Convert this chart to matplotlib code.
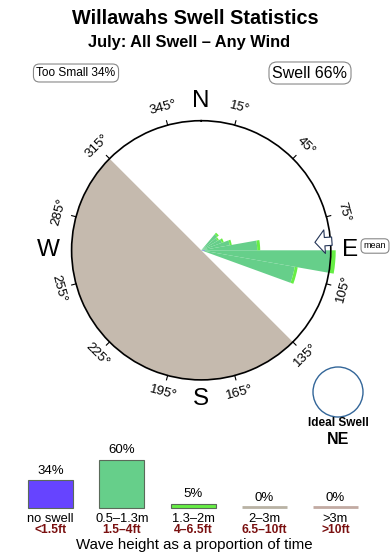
import numpy as np
import matplotlib
matplotlib.use("Agg")
import matplotlib.pyplot as plt
from matplotlib.patches import Circle

plt.rcParams['font.family'] = ['Liberation Sans', 'DejaVu Sans']

# ---------------- data ----------------
title = "Willawahs Swell Statistics"
subtitle = "July: All Swell \u2013 Any Wind"
too_small_pct = 34
swell_pct = 66

# rose: direction bins (bin centre, degrees) and stacked radial lengths (circle radius = 129.6)
rose_dirs = [45, 55, 65, 75, 85, 95, 105]
rose_blue = [0, 0, 0, 0, 3, 4, 0]            # <1.5ft
rose_green = [21, 19, 22, 29, 53, 126, 95]   # 0.5-1.3m
rose_bright = [2, 1.5, 2, 2, 3, 4.5, 3]      # 1.3-2m
rose_bin_width = 10

blocked_from = 135   # shaded sector bearings (clockwise from 135 to 315)
blocked_to = 315
mean_dir = 86
tick_degs = [15, 45, 75, 105, 135, 165, 195, 225, 255, 285, 315, 345]
cardinals = ['N', 'E', 'S', 'W']
cardinal_degs = [0, 90, 180, 270]
ideal_dir = "NE"

# wave height bars
categories = ['no swell', '0.5\u20131.3m', '1.3\u20132m', '2\u20133m', '>3m']
cat_ft = ['<1.5ft', '1.5\u20134ft', '4\u20136.5ft', '6.5\u201310ft', '>10ft']
pct = [34, 60, 5, 0, 0]
bar_colors = ['#6644ff', '#66cf8a', '#66ee44', '#b9b2a4', '#c2aaa2']

# ---------------- figure ----------------
W, H = 390, 560
fig = plt.figure(figsize=(W / 100, H / 100), dpi=100)
fig.patch.set_facecolor('white')


def fx(x):
    return x / W


def fy(y):
    return 1 - y / H


fig.text(fx(195), fy(18), title, ha='center', va='center', fontsize=14.3, fontweight='bold')
fig.text(fx(189), fy(42), subtitle, ha='center', va='center', fontsize=11.8, fontweight='bold')

fig.text(fx(76), fy(73), f"Too Small {too_small_pct}%", ha='center', va='center', fontsize=8.6,
         bbox=dict(boxstyle='round,pad=0.25,rounding_size=0.5', fc='white', ec='#888888', lw=0.8))
fig.text(fx(310), fy(73), f"Swell {swell_pct}%", ha='center', va='center', fontsize=11.5,
         bbox=dict(boxstyle='round,pad=0.22,rounding_size=0.5', fc='white', ec='#888888', lw=0.8))

# ---------------- compass rose ----------------
cx, cy, R = 201.2, 250.3, 129.6
ax = fig.add_axes([fx(cx - R), fy(cy + R), 2 * R / W, 2 * R / H], projection='polar')
ax.set_theta_zero_location('N')
ax.set_theta_direction(-1)
ax.set_ylim(0, R)
ax.set_xticks([])
ax.set_yticks([])
ax.grid(False)
ax.spines['polar'].set_linewidth(1.2)
ax.spines['polar'].set_zorder(6)

span = (blocked_to - blocked_from) % 360
ax.bar(np.deg2rad(blocked_from + span / 2), R, width=np.deg2rad(span), bottom=0,
       color='#c5baae', edgecolor='none', zorder=1)

th = np.deg2rad(rose_dirs)
wd = np.deg2rad(rose_bin_width)
b1 = np.array(rose_blue, float)
b2 = b1 + np.array(rose_green, float)
ax.bar(th, rose_blue, width=wd, bottom=0, color='#6644ff', lw=0, zorder=3, clip_on=False)
ax.bar(th, rose_green, width=wd, bottom=b1, color='#66cf8a', lw=0, zorder=3, clip_on=False)
ax.bar(th, rose_bright, width=wd, bottom=b2, color='#66ee44', lw=0, zorder=3, clip_on=False)

for d in tick_degs:
    t = np.deg2rad(d)
    ax.plot([t, t], [R, R + 4.5], color='black', lw=0.8, clip_on=False, zorder=6)
    rot = ((-d + 90) % 180) - 90
    ax.text(t, R + 18, f"{d}\u00b0", rotation=rot, rotation_mode='anchor',
            ha='center', va='center', fontsize=9.6, clip_on=False)

for lab, d in zip(cardinals, cardinal_degs):
    rr = 153 if lab == 'W' else 149
    ax.text(np.deg2rad(d), rr, lab, ha='center', va='center', fontsize=17.5, clip_on=False)

ax.annotate('', xy=(np.deg2rad(mean_dir), 114), xytext=(np.deg2rad(mean_dir), 131),
            xycoords='data', annotation_clip=False,
            arrowprops=dict(arrowstyle='simple,head_length=0.7,head_width=1.7,tail_width=0.6',
                            fc='white', ec='#223355', lw=0.8, shrinkA=0, shrinkB=0,
                            mutation_scale=10), zorder=7)
fig.text(fx(375), fy(246), 'mean', ha='center', va='center', fontsize=6.5,
         bbox=dict(boxstyle='round,pad=0.3,rounding_size=0.5', fc='white', ec='#888888', lw=0.8))

# ---------------- ideal swell ----------------
ax2 = fig.add_axes([fx(338 - 27), fy(392 + 27), 54 / W, 54 / H])
ax2.set_xlim(-27, 27)
ax2.set_ylim(-27, 27)
ax2.axis('off')
ax2.add_patch(Circle((0, 0), 25, fill=False, ec='#336699', lw=1))
fig.text(fx(338), fy(423), 'Ideal Swell', ha='center', va='center', fontsize=8.5, fontweight='bold')
fig.text(fx(338), fy(439), ideal_dir, ha='center', va='center', fontsize=11.5, fontweight='bold')

# ---------------- wave height bars ----------------
bx0, bx1, base = 15, 371, 507.5
ax3 = fig.add_axes([fx(bx0), fy(base), (bx1 - bx0) / W, 80 / H])
ax3.set_xlim(-0.5, 4.5)
ax3.set_ylim(0, 100)
ax3.axis('off')
bw = 45 / ((bx1 - bx0) / 5)
for i, (v, c) in enumerate(zip(pct, bar_colors)):
    if v > 0:
        ax3.bar(i, v, width=bw, color=c, edgecolor='#5a6a5a', lw=0.8, clip_on=False)
    else:
        ax3.plot([i - bw / 2, i + bw / 2], [0.8, 0.8], color=c, lw=2,
                 solid_capstyle='butt', clip_on=False)
    ax3.annotate(f"{v}%", xy=(i, v), xytext=(0, 6.5), textcoords='offset points',
                 ha='center', va='center', fontsize=9.5, annotation_clip=False)
    ax3.annotate(categories[i], xy=(i, 0), xytext=(0, -8.3), textcoords='offset points',
                 ha='center', va='center', fontsize=9.3, annotation_clip=False)
    ax3.annotate(cat_ft[i], xy=(i, 0), xytext=(0, -16.3), textcoords='offset points',
                 ha='center', va='center', fontsize=8.7, fontweight='bold', color='#7a1010',
                 annotation_clip=False)

fig.text(fx(194), fy(545), 'Wave height as a proportion of time', ha='center', va='center', fontsize=10.8)

fig.savefig('out.png', dpi=100)
